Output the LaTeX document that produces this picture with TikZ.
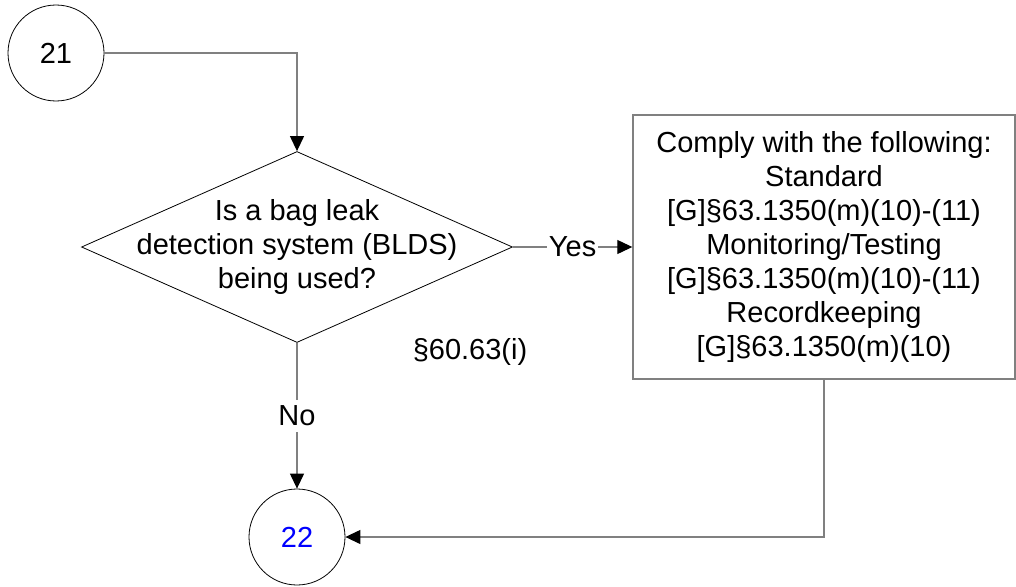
\documentclass[tikz,border=0pt]{standalone}
\usepackage{fontspec}
\setmainfont{Liberation Sans}
\usetikzlibrary{shapes.geometric,arrows.meta}
\tikzset{
  conn/.style={draw=black!50, line width=1.2pt, -{Triangle[length=15pt,width=14pt,color=black,fill=black]}},
  offpage/.style={circle, draw, line width=0.8pt, minimum size=96pt, inner sep=0pt},
  decision/.style={diamond, draw, line width=0.8pt, minimum width=431pt, minimum height=191pt, inner sep=0pt},
  action/.style={rectangle, draw=black!50, line width=1.4pt, minimum width=382pt, minimum height=264pt, align=center, inner sep=0pt},
  onwire/.style={fill=white, inner sep=2pt},
}
\begin{document}
\begin{tikzpicture}[x=1pt, y=-1pt, font=\fontsize{29}{34}\selectfont]
    \useasboundingbox (0,0) rectangle (1016,586);
    \node[offpage] (c21) at (56,53) {21};
    \node[decision, label={[align=center]center:Is a bag leak\\detection system (BLDS)\\being used?}] (q) at (297,247) {};
    \node[action] (req) at (824,247) {Comply with the following:\\Standard\\{[G]}\S63.1350(m)(10)-(11)\\Monitoring/Testing\\{[G]}\S63.1350(m)(10)-(11)\\Recordkeeping\\{[G]}\S63.1350(m)(10)};
    \node (cite) at (470,352) {\S60.63(i)};
    \node[offpage, text=blue] (c22) at (297,537) {22};
    \draw[conn] (c21.east) -| (q.north);
    \draw[conn] (q.east) -- node[onwire] {Yes} (req.west);
    \draw[conn] (q.south) -- node[onwire, inner ysep=6pt] {No} (c22.north);
    \draw[conn] (req.south) |- (c22.east);
  \end{tikzpicture}
\end{document}
